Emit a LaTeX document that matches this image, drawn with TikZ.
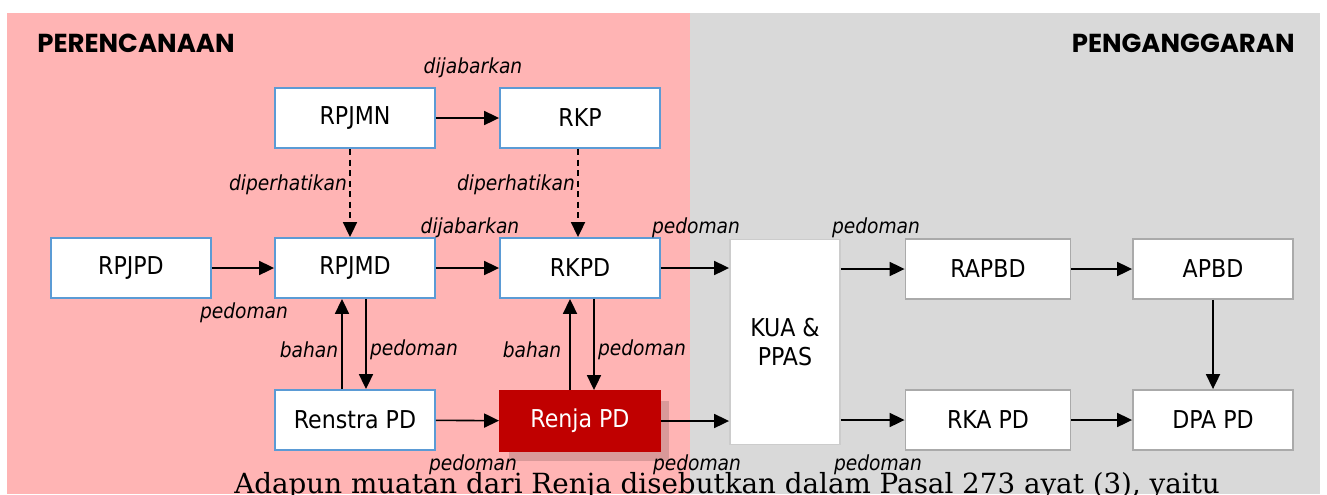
\documentclass[tikz,border=0pt]{standalone}
\usepackage{fontspec}
\setmainfont{DejaVu Sans Condensed}
\newfontfamily\headfont{Poppins}
\newfontfamily\bodyfont{DejaVu Serif}
\usetikzlibrary{arrows.meta,calc,shadows}

\definecolor{planpink}{RGB}{255,180,180}
\definecolor{budgetgray}{RGB}{217,217,217}
\definecolor{boxblue}{RGB}{91,155,213}
\definecolor{boxgray}{RGB}{170,170,170}
\definecolor{renjared}{RGB}{192,0,0}

\begin{document}
\begin{tikzpicture}[x=0.02cm,y=-0.02cm,>={Triangle[length=8.5pt,width=8pt]},
  planbox/.style={draw=boxblue,line width=1.1pt,fill=white,minimum width=3.2cm,minimum height=1.2cm,
    font=\fontsize{14}{16}\selectfont},
  budgetbox/.style={planbox,draw=boxgray},
  conn/.style={line width=0.9pt},
  lbl/.style={font=\itshape\fontsize{11.8}{13}\selectfont,inner sep=1pt},
  heading/.style={font=\headfont\bfseries\fontsize{14.8}{16}\selectfont,inner sep=0pt}]
  \useasboundingbox (0,0) rectangle (1327,494);
  \clip (0,0) rectangle (1327,494);
  \fill[planpink] (7,13) rectangle (690,494);
  \fill[budgetgray] (690,13) rectangle (1320,494);
  \node[heading,anchor=west] (plan) at (37,43) {PERENCANAAN};
  \node[heading,anchor=east] (budget) at (1295,43) {PENGANGGARAN};

  % perencanaan
  \node[planbox] (rpjmn) at (355,118) {RPJMN};
  \node[planbox] (rkp) at (580,118) {RKP};
  \node[planbox] (rpjpd) at (131,268) {RPJPD};
  \node[planbox] (rpjmd) at (355,268) {RPJMD};
  \node[planbox] (rkpd) at (580,268) {RKPD};
  \node[planbox] (renstra) at (355,420) {Renstra PD};
  \node[planbox,draw=renjared,fill=renjared,text=white,
    drop shadow={shadow xshift=0.18cm,shadow yshift=-0.2cm,fill=black,opacity=0.15}] (renja) at (580,421) {Renja PD};

  % penganggaran
  \node[budgetbox,minimum width=2.2cm,minimum height=4.1cm,draw=boxgray!60,align=center] (kua) at (785,342) {KUA \&\\PPAS};
  \node[budgetbox,minimum width=3.3cm] (rapbd) at (988,269) {RAPBD};
  \node[budgetbox] (apbd) at (1213,269) {APBD};
  \node[budgetbox,minimum width=3.3cm] (rka) at (988,420) {RKA PD};
  \node[budgetbox] (dpa) at (1213,420) {DPA PD};

  % panah
  \draw[->,conn] (rpjmn) -- (rkp);
  \draw[->,conn,dash pattern=on 3.5pt off 2.5pt] ([xshift=-0.1cm]rpjmn.south) -- ([xshift=-0.1cm]rpjmd.north);
  \draw[->,conn,dash pattern=on 3.5pt off 2.5pt] ([xshift=-0.04cm]rkp.south) -- ([xshift=-0.04cm]rkpd.north);
  \draw[->,conn] (rpjpd) -- (rpjmd);
  \draw[->,conn] (rpjmd) -- (rkpd);
  \draw[->,conn] ([xshift=-0.26cm]renstra.north) -- ([xshift=-0.26cm]rpjmd.south);
  \draw[->,conn] ([xshift=0.22cm]rpjmd.south) -- ([xshift=0.22cm]renstra.north);
  \draw[->,conn] ([xshift=-0.2cm]renja.north) -- ([xshift=-0.2cm]rkpd.south);
  \draw[->,conn] ([xshift=0.28cm]rkpd.south) -- ([xshift=0.28cm]renja.north);
  \draw[->,conn] (renstra) -- (renja);
  \draw[->,conn] (rkpd.east) -- (rkpd.east -| kua.west);
  \draw[->,conn] (renja.east) -- (renja.east -| kua.west);
  \draw[->,conn] (rapbd.west -| kua.east) -- (rapbd.west);
  \draw[->,conn] (rka.west -| kua.east) -- (rka.west);
  \draw[->,conn] (rapbd) -- (apbd);
  \draw[->,conn] (rka) -- (dpa);
  \draw[->,conn] (apbd) -- (dpa);

  % keterangan
  \node[lbl] (l1) at (473,68) {dijabarkan};
  \node[lbl,anchor=east] (l2) at (349,185) {diperhatikan};
  \node[lbl,anchor=east] (l3) at (577,185) {diperhatikan};
  \node[lbl] (l4) at (470,228) {dijabarkan};
  \node[lbl] (l5) at (696,228) {pedoman};
  \node[lbl] (l6) at (876,228) {pedoman};
  \node[lbl] (l7) at (244,313) {pedoman};
  \node[lbl] (l8) at (309,350) {bahan};
  \node[lbl] (l9) at (414,350) {pedoman};
  \node[lbl] (l10) at (532,350) {bahan};
  \node[lbl] (l11) at (642,350) {pedoman};
  \node[lbl] (l12) at (473,465) {pedoman};
  \node[lbl] (l13) at (697,465) {pedoman};
  \node[lbl] (l14) at (878,465) {pedoman};

  \node[font=\bodyfont\fontsize{15.8}{20}\selectfont,anchor=base west,inner sep=0pt] (para) at (234,493)
    {Adapun muatan dari Renja disebutkan dalam Pasal 273 ayat (3), yaitu};
\end{tikzpicture}
\end{document}
